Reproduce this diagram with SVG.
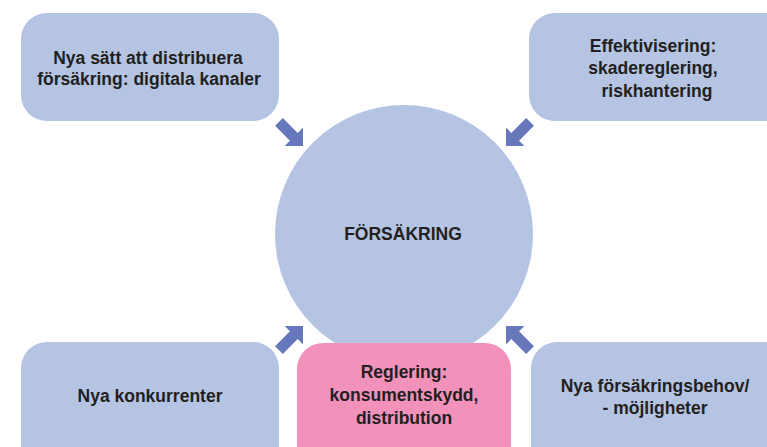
<svg xmlns="http://www.w3.org/2000/svg" width="767" height="447" viewBox="0 0 767 447">
<defs>
<style>
.box{fill:#b4c4e2}
.pink{fill:#f292bb}
.t{font-family:"Liberation Sans",Arial,sans-serif;font-weight:bold;font-size:17.5px;fill:#231f20;text-anchor:middle}
.arr{fill:#6677bb}
</style>
<path id="a" d="M-34,-5.5 L-13,-5.5 L-13,-13 L0,0 L-13,13 L-13,5.5 L-34,5.5 Z"/>
</defs>
<rect width="767" height="447" fill="#fff"/>
<g id="circle">
<circle cx="404" cy="234" r="129" class="box"/>
<text class="t" x="403" y="240">FÖRSÄKRING</text>
</g>
<g id="n1">
<rect x="21" y="13" width="258" height="108" rx="26" class="box"/>
<text class="t" x="148" y="64">Nya sätt att distribuera</text>
<text class="t" x="149" y="85">försäkring: digitala kanaler</text>
</g>
<g id="n2">
<rect x="529" y="13" width="270" height="108" rx="26" class="box"/>
<text class="t" x="653" y="52">Effektivisering:</text>
<text class="t" x="653" y="74">skadereglering,</text>
<text class="t" x="657" y="97">riskhantering</text>
</g>
<g id="n3">
<rect x="21" y="342" width="258" height="130" rx="26" class="box"/>
<text class="t" x="150" y="402">Nya konkurrenter</text>
</g>
<g id="n4">
<rect x="297" y="343" width="214" height="130" rx="26" class="pink"/>
<text class="t" x="404" y="378">Reglering:</text>
<text class="t" x="404" y="401">konsumentskydd,</text>
<text class="t" x="404" y="424">distribution</text>
</g>
<g id="n5">
<rect x="531" y="342" width="270" height="130" rx="26" class="box"/>
<text class="t" x="655" y="392">Nya försäkringsbehov/</text>
<text class="t" x="655" y="414">- möjligheter</text>
</g>
<g id="connectors" class="arr">
<use href="#a" transform="translate(303,146) rotate(45)"/>
<use href="#a" transform="translate(506,146) rotate(135)"/>
<use href="#a" transform="translate(303,326) rotate(-45)"/>
<use href="#a" transform="translate(506,326) rotate(-135)"/>
</g>
</svg>
